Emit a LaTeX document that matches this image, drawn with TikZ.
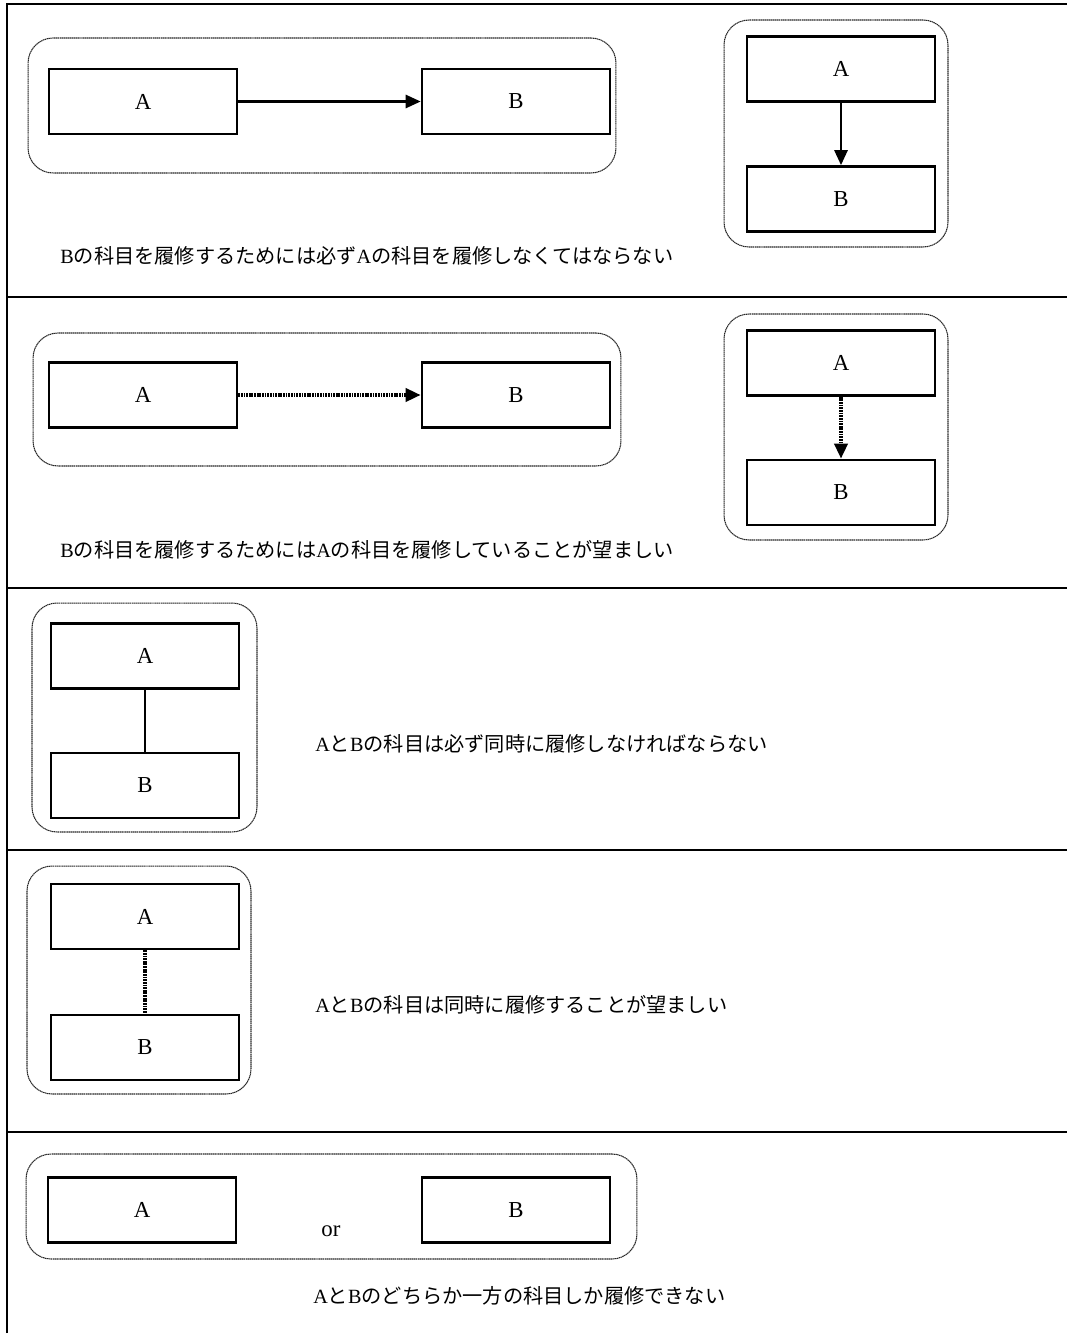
\documentclass[tikz,border=0pt]{standalone}
\usepackage{fontspec}
\setmainfont{Liberation Serif}
\newfontfamily\jpfont{Noto Sans CJK JP}
\usepackage{tikz}
\usetikzlibrary{positioning,arrows.meta}
\newcommand{\jp}[1]{{\jpfont #1}}

\begin{document}
\begin{tikzpicture}[x=0.02cm, y=-0.02cm,
  every node/.style={font=\fontsize{11.5}{14}\selectfont},
  subj/.style={draw, line width=1.5pt, minimum width=3.76cm, minimum height=1.3cm, inner sep=0pt, font=\fontsize{13}{15}\selectfont},
  grp/.style={draw=black!85, line width=0.6pt, dash pattern=on 0.8pt off 0.3pt, rounded corners=0.5cm, inner sep=0pt},
  req/.style={line width=1.5pt, -{Triangle[length=0.3cm, width=0.26cm]}},
  pref/.style={line width=2pt, dash pattern=on 1pt off 0.5pt, -{Triangle[length=0.3cm, width=0.26cm]}},
  tie/.style={line width=1.5pt},
  tiepref/.style={line width=2pt, dash pattern=on 1pt off 0.5pt},
  note/.style={anchor=west, inner sep=0pt}]
\useasboundingbox (0,0) rectangle (1067,1335);

% Frame
\draw[line width=1.4pt] (7,1333) -- (7,4) -- (1067,4);
\foreach \y in {297,588,850,1132}
  \draw[line width=1.4pt] (7,\y) -- (1067,\y);

% Row 1: required
\node[grp, minimum width=11.76cm, minimum height=2.7cm] (g1h) at (322,105.5) {};
\node[subj] (a1h) at (143,101.5) {A};
\node[subj] (b1h) at (516,101.5) {B};
\draw[req] (a1h) -- (b1h);
\node[grp, minimum width=4.48cm, minimum height=4.54cm] (g1v) at (836,133.5) {};
\node[subj] (a1v) at (841,69) {A};
\node[subj] (b1v) at (841,199) {B};
\draw[req] (a1v) -- (b1v);
\node[note] (t1) at (60,256) {B\jp{の科目を履修するためには必ず}A\jp{の科目を履修しなくてはならない}};

% Row 2: preferred
\node[grp, minimum width=11.76cm, minimum height=2.66cm] (g2h) at (327,399.5) {};
\node[subj] (a2h) at (143,395) {A};
\node[subj] (b2h) at (516,395) {B};
\draw[pref] (a2h) -- (b2h);
\node[grp, minimum width=4.48cm, minimum height=4.52cm] (g2v) at (836,427) {};
\node[subj] (a2v) at (841,363) {A};
\node[subj] (b2v) at (841,492.5) {B};
\draw[pref] (a2v) -- (b2v);
\node[note] (t2) at (60,550) {B\jp{の科目を履修するためには}A\jp{の科目を履修していることが望ましい}};

% Row 3: same term, required
\node[grp, minimum width=4.5cm, minimum height=4.58cm] (g3) at (144.5,717.5) {};
\node[subj] (a3) at (145,656) {A};
\node[subj] (b3) at (145,785.5) {B};
\draw[tie] (a3) -- (b3);
\node[note] (t3) at (315,744) {A\jp{と}B\jp{の科目は必ず同時に履修しなければならない}};

% Row 4: same term, preferred
\node[grp, minimum width=4.48cm, minimum height=4.56cm] (g4) at (139,980) {};
\node[subj] (a4) at (145,916.5) {A};
\node[subj] (b4) at (145,1047.5) {B};
\draw[tiepref] (a4) -- (b4);
\node[note] (t4) at (315,1005) {A\jp{と}B\jp{の科目は同時に履修することが望ましい}};

% Row 5: either one
\node[grp, minimum width=12.22cm, minimum height=2.1cm] (g5) at (331.5,1206.5) {};
\node[subj] (a5) at (142,1210) {A};
\node[subj] (b5) at (516,1210) {B};
\node[font=\fontsize{13}{15}\selectfont] (or5) at (331,1231) {or};
\node[note] (t5) at (313,1296) {A\jp{と}B\jp{のどちらか一方の科目しか履修できない}};
\end{tikzpicture}
\end{document}
